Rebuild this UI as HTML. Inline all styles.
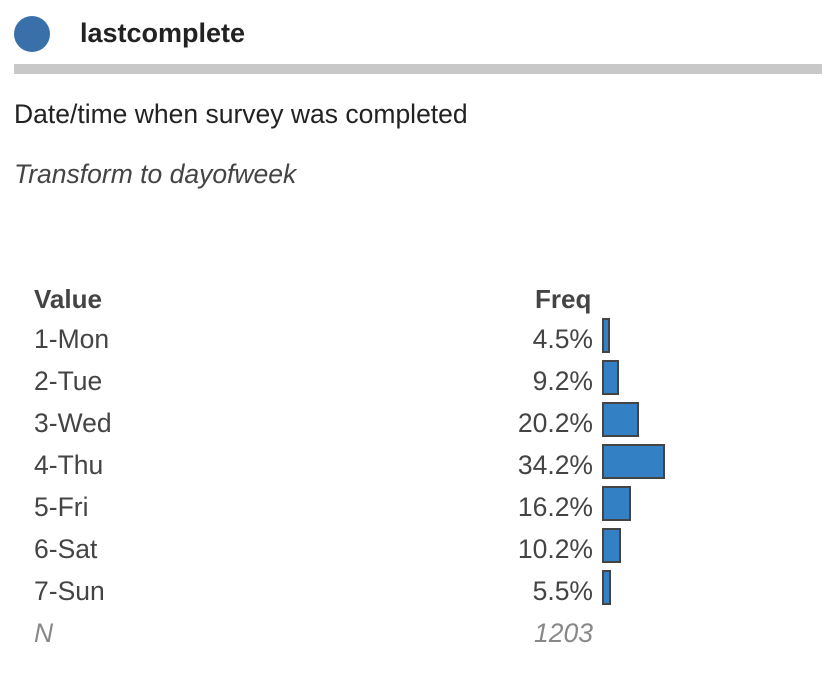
<!DOCTYPE html>
<html><head><style>
body{margin:0;width:832px;height:688px;background:#fff;position:relative;font-family:"Liberation Sans",sans-serif;color:#333;overflow:hidden}
div{position:absolute}
.t{font-size:26.5px;line-height:30px;color:#444}
.r{text-align:right;width:200px;left:393px}
.b{left:602px;height:31px;background:#3380c4;border:2px solid #444}
</style></head><body>
<div style="left:14px;top:16px;width:36px;height:36px;border-radius:50%;background:#3a70aa"></div>
<div style="left:80px;top:16px;font-size:27px;font-weight:bold;color:#222;line-height:34px">lastcomplete</div>
<div style="left:14px;top:64px;width:808px;height:10px;background:#c8c8c8"></div>
<div style="left:14px;top:98px;font-size:26.5px;color:#222;line-height:32px">Date/time when survey was completed</div>
<div style="left:14px;top:158px;font-size:26.5px;font-style:italic;color:#444;line-height:32px">Transform to dayofweek</div>
<div class="t" style="left:34px;top:284px;font-weight:bold;font-size:26px">Value</div>
<div class="t" style="left:535px;top:284px;font-weight:bold;font-size:26px">Freq</div>
<div class="t" style="left:34px;top:324px">1-Mon</div><div class="t r" style="top:324px">4.5%</div><div class="b" style="top:318px;width:4px"></div>
<div class="t" style="left:34px;top:366px">2-Tue</div><div class="t r" style="top:366px">9.2%</div><div class="b" style="top:360px;width:13px"></div>
<div class="t" style="left:34px;top:408px">3-Wed</div><div class="t r" style="top:408px">20.2%</div><div class="b" style="top:402px;width:33px"></div>
<div class="t" style="left:34px;top:450px">4-Thu</div><div class="t r" style="top:450px">34.2%</div><div class="b" style="top:444px;width:59px"></div>
<div class="t" style="left:34px;top:492px">5-Fri</div><div class="t r" style="top:492px">16.2%</div><div class="b" style="top:486px;width:25px"></div>
<div class="t" style="left:34px;top:534px">6-Sat</div><div class="t r" style="top:534px">10.2%</div><div class="b" style="top:528px;width:15px"></div>
<div class="t" style="left:34px;top:576px">7-Sun</div><div class="t r" style="top:576px">5.5%</div><div class="b" style="top:570px;width:5px"></div>
<div class="t" style="left:34px;top:618px;font-style:italic;color:#888">N</div><div class="t r" style="top:618px;font-style:italic;color:#888">1203</div>
</body></html>
